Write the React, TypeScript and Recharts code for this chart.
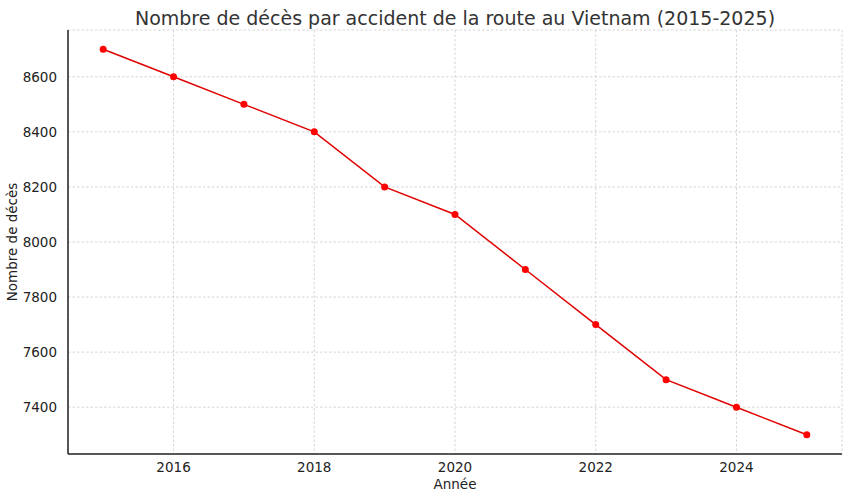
import React from "react";
import { LineChart, Line, XAxis, YAxis, CartesianGrid, Label } from "recharts";

const years = [2015, 2016, 2017, 2018, 2019, 2020, 2021, 2022, 2023, 2024, 2025];
const deaths = [8700, 8600, 8500, 8400, 8200, 8100, 7900, 7700, 7500, 7400, 7300];
const xTicks = [2016, 2018, 2020, 2022, 2024];
const yTicks = [7400, 7600, 7800, 8000, 8200, 8400, 8600];

const data = years.map((y, i) => ({ year: y, deaths: deaths[i] }));

const font = "DejaVu Sans, sans-serif";

export default function App() {
  return (
    <div style={{ position: "absolute", left: 0, top: 0, width: 850, height: 500, background: "#fff" }}>
      <div
        style={{
          position: "absolute",
          left: 68,
          width: 774,
          top: 6,
          textAlign: "center",
          fontFamily: font,
          fontSize: 19,
          lineHeight: "24px",
          color: "#333",
          whiteSpace: "nowrap",
        }}
      >
        Nombre de décès par accident de la route au Vietnam (2015-2025)
      </div>
      <LineChart
        width={850}
        height={500}
        data={data}
        margin={{ top: 30, right: 8, bottom: 0, left: 0 }}
      >
        <CartesianGrid stroke="#cccccc" strokeDasharray="2.5 2" strokeWidth={0.8} />
        <XAxis
          dataKey="year"
          type="number"
          domain={[2014.5, 2025.5]}
          ticks={xTicks}
          allowDataOverflow
          height={46}
          tickLine={false}
          axisLine={{ stroke: "#222", strokeWidth: 1.5 }}
          tick={{ fontFamily: font, fontSize: 13.5, fill: "#222" }}
          tickMargin={2}
        >
          <Label value="Année" position="insideBottom" offset={11} style={{ fontFamily: font, fontSize: 13.5, fill: "#222" }} />
        </XAxis>
        <YAxis
          type="number"
          domain={[7230, 8770]}
          ticks={yTicks}
          allowDataOverflow
          width={68}
          tickLine={false}
          axisLine={{ stroke: "#222", strokeWidth: 1.5 }}
          tick={{ fontFamily: font, fontSize: 13.5, fill: "#222" }}
          tickMargin={5}
        >
          <Label
            value="Nombre de décès"
            angle={-90}
            position="insideLeft"
            offset={12}
            style={{ fontFamily: font, fontSize: 13.5, fill: "#222", textAnchor: "middle" }}
          />
        </YAxis>
        <Line
          type="linear"
          dataKey="deaths"
          stroke="#e00000"
          strokeWidth={1.5}
          dot={{ r: 3.5, fill: "#ff0000", stroke: "#ff0000", strokeWidth: 0 }}
          activeDot={false}
          isAnimationActive={false}
        />
      </LineChart>
    </div>
  );
}
